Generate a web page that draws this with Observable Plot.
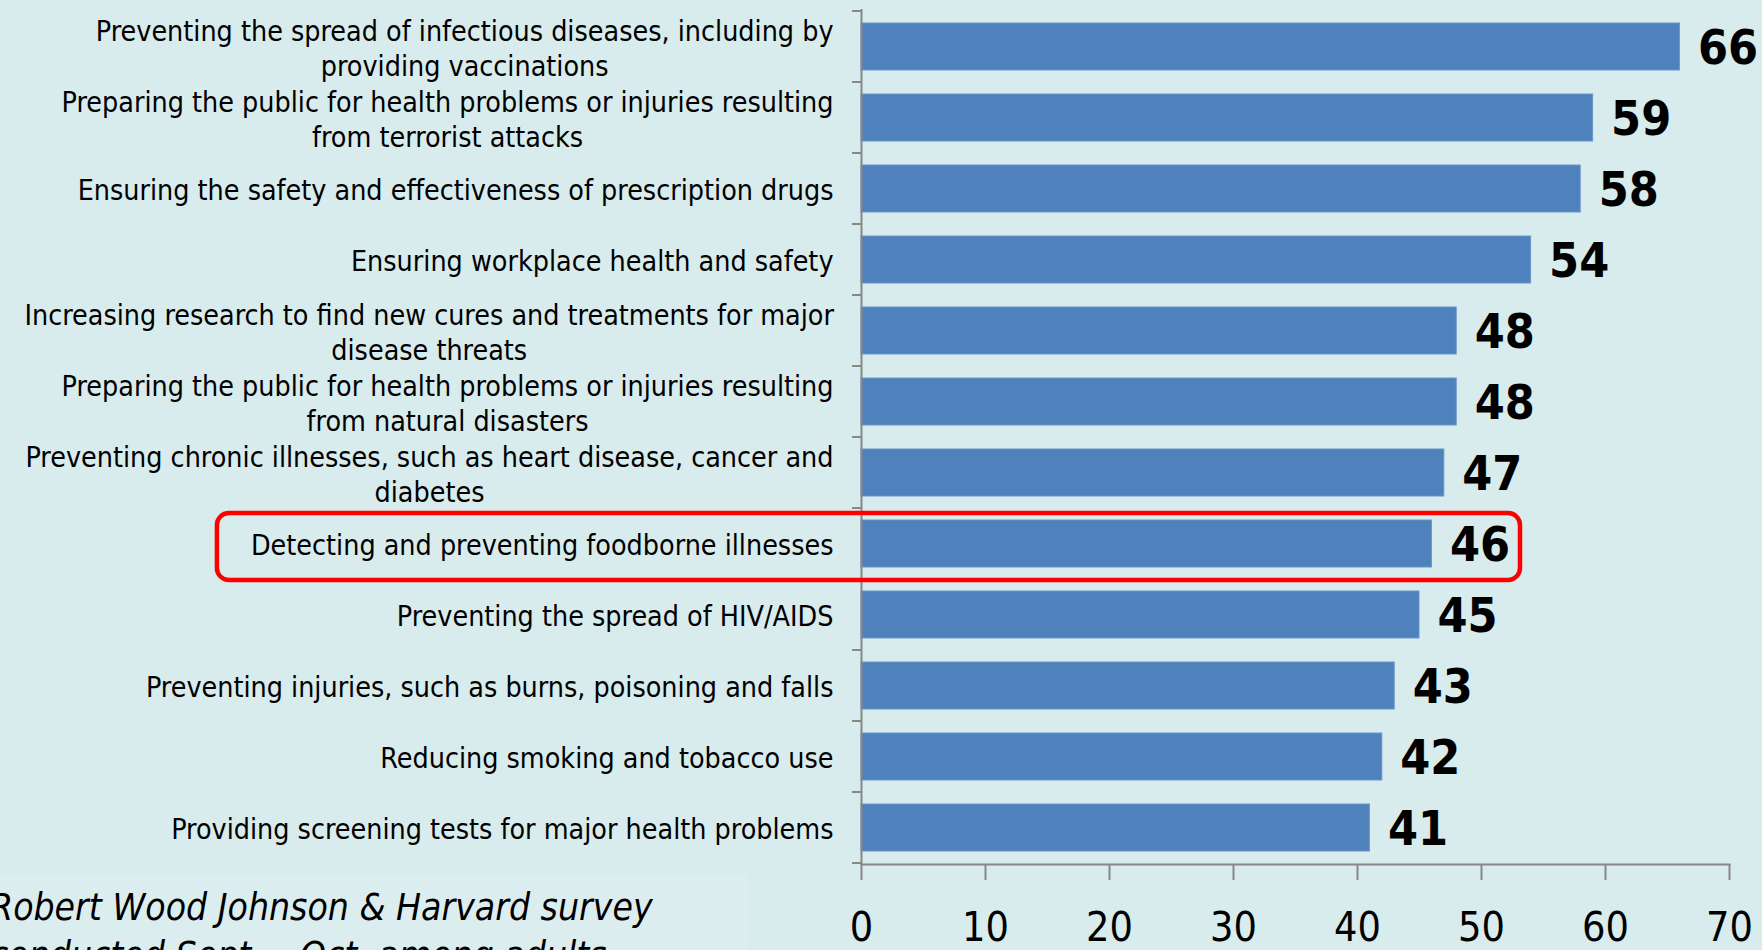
<!DOCTYPE html>
<html>
<head>
<meta charset="utf-8">
<script src="https://cdn.jsdelivr.net/npm/d3@7"></script>
<script src="https://cdn.jsdelivr.net/npm/@observablehq/plot@0.6"></script>
<style>
  html, body { margin: 0; padding: 0; background: #d8ebed; width: 1762px; height: 950px; overflow: hidden; }
  #wrap { position: relative; width: 1762px; height: 950px; }
  #chart svg { display: block; overflow: visible; }
  #caption { position: absolute; left: 0; top: 874px; width: 749px; height: 76px; background: #dcedf0; overflow: hidden; }
  #caption div { position: absolute; left: -10px; top: 10px; white-space: pre; line-height: 48px;
    font-family: "Liberation Sans Narrow", "DejaVu Sans Condensed", sans-serif; font-style: italic; font-size: 37px; color: #000; }
</style>
</head>
<body>
<div id="wrap">
  <div id="chart"></div>
  <div id="caption"><div>Robert Wood Johnson &amp; Harvard survey
conducted Sept. – Oct. among adults</div></div>
</div>
<script>
const categories = [
  "Preventing the spread of infectious diseases, including by\nproviding vaccinations",
  "Preparing the public for health problems or injuries resulting\nfrom terrorist attacks",
  "Ensuring the safety and effectiveness of prescription drugs",
  "Ensuring workplace health and safety",
  "Increasing research to find new cures and treatments for major\ndisease threats",
  "Preparing the public for health problems or injuries resulting\nfrom natural disasters",
  "Preventing chronic illnesses, such as heart disease, cancer and\ndiabetes",
  "Detecting and preventing foodborne illnesses",
  "Preventing the spread of HIV/AIDS",
  "Preventing injuries, such as burns, poisoning and falls",
  "Reducing smoking and tobacco use",
  "Providing screening tests for major health problems"
];
const values = [66, 59, 58, 54, 48, 48, 47, 46, 45, 43, 42, 41];
const xTicks = [0, 10, 20, 30, 40, 50, 60, 70];
const highlighted = "Detecting and preventing foodborne illnesses";

const data = categories.map((c, i) => ({label: c, value: values[i]}));
const FONT = '"DejaVu Sans Condensed", "DejaVu Sans", sans-serif';
const GRAY = "#888888";

const chart = Plot.plot({
  width: 1762,
  height: 950,
  marginLeft: 861,
  marginRight: 33,
  marginTop: 9,
  marginBottom: 86,
  style: {background: "transparent", fontFamily: FONT, color: "#000", fontStretch: "condensed"},
  x: {domain: [0, 70], axis: null, label: null},
  y: {domain: categories, paddingInner: 0.34, paddingOuter: 0.17, axis: null, label: null},
  marks: [
    Plot.barX(data, {x: "value", y: "label", fill: "#4f81bd", stroke: "#6a95c9", strokeWidth: 1}),
    Plot.ruleX([0], {stroke: GRAY, strokeWidth: 2}),
    Plot.frame({anchor: "bottom", stroke: GRAY, strokeWidth: 2}),
    Plot.axisX(xTicks, {tickSize: 16, tickPadding: 31, fontSize: 41, stroke: GRAY, strokeWidth: 2, fill: "#000",
      tickFormat: d => String(d), fontFamily: FONT, label: null}),
    Plot.axisY({tickSize: 0, tickPadding: 28, fontSize: 28.4, lineHeight: 1.24, fill: "#000", tickFormat: d => d,
      fontFamily: FONT, label: null}),
    Plot.text(data, {x: "value", y: "label", text: d => String(d.value), textAnchor: "start", dx: 18, dy: 2,
      fontSize: 48, fontWeight: "bold", fill: "#000", fontFamily: FONT})
  ]
});

document.getElementById("chart").appendChild(chart);

const ys = chart.scale("y");
const xs = chart.scale("x");
const x0 = xs.apply(0);
const svgRect = chart.getBoundingClientRect();
const allTexts = Array.from(chart.querySelectorAll("text"));
const relBox = el => {
  const r = el.getBoundingClientRect();
  return {left: r.left - svgRect.left, right: r.right - svgRect.left, top: r.top - svgRect.top, bottom: r.bottom - svgRect.top};
};

// Category labels = texts left of the value axis; centre their lines like the original
const catTexts = allTexts.filter(t => relBox(t).right < x0 - 5 && relBox(t).bottom < ys.range[1] + 1);
catTexts.forEach(t => {
  const spans = Array.from(t.querySelectorAll("tspan"));
  if (spans.length > 1) {
    const bb = t.getBBox();
    const right = bb.x + bb.width;
    const w = d3.max(spans, s => s.getComputedTextLength());
    t.setAttribute("text-anchor", "middle");
    spans.forEach(s => s.setAttribute("x", right - w / 2));
  }
});

// Boundary ticks on the category axis, from the library's y scale
const gap = ys.step - ys.bandwidth;
const bounds = categories.map(c => ys.apply(c) - gap / 2);
bounds.push(ys.apply(categories[categories.length - 1]) + ys.bandwidth + gap / 2);
const g = d3.select(chart).append("g").attr("aria-label", "category ticks");
g.selectAll("line").data(bounds).join("line")
  .attr("x1", x0 - 9).attr("x2", x0)
  .attr("y1", d => d).attr("y2", d => d)
  .attr("stroke", GRAY).attr("stroke-width", 2);

// Red highlight box around the foodborne-illness row
const hi = categories.indexOf(highlighted);
const labelEl = allTexts.find(t => t.textContent === highlighted);
const valEl = allTexts.find(t => t.textContent === String(values[hi]) && relBox(t).left > x0 + 10);
if (labelEl && valEl) {
  const lr = relBox(labelEl);
  const vr = relBox(valEl);
  const left = lr.left - 34;
  const right = vr.right + 10;
  const cy = ys.apply(highlighted) + ys.bandwidth / 2 + 3;
  const h = ys.step - 4;
  d3.select(chart).append("rect")
    .attr("x", left).attr("y", cy - h / 2)
    .attr("width", right - left).attr("height", h)
    .attr("rx", 12).attr("ry", 12)
    .attr("fill", "none").attr("stroke", "#ff0000").attr("stroke-width", 4.5);
}
</script>
</body>
</html>
